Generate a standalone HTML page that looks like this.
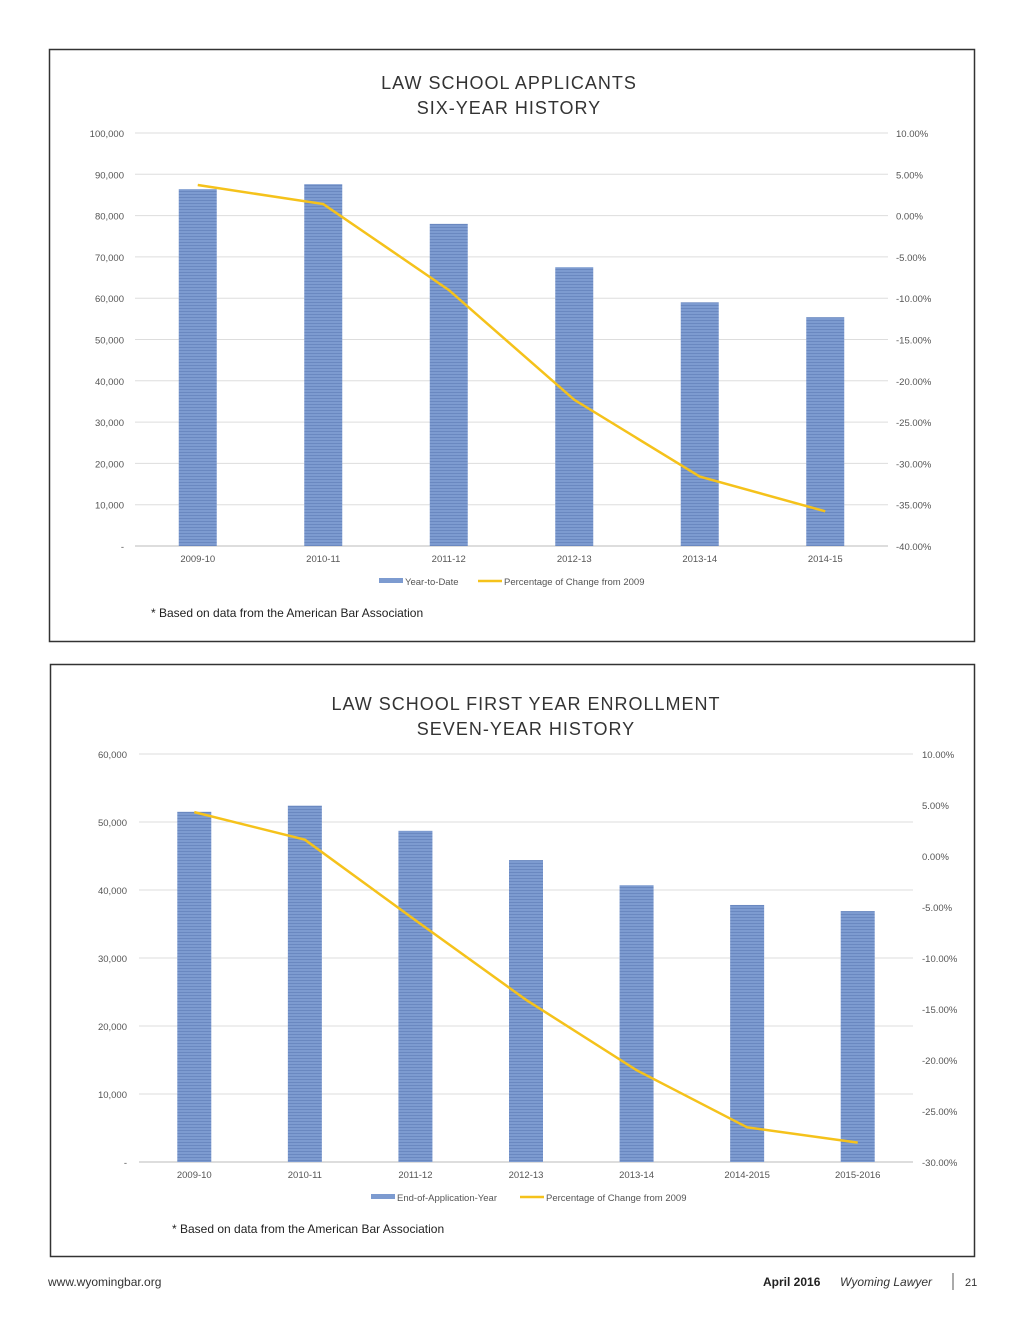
<!DOCTYPE html>
<html><head><meta charset="utf-8"><style>
body{margin:0;background:#fff;font-family:"Liberation Sans",sans-serif}
svg{display:block}
</style></head><body>
<svg id="page" width="1024" height="1325" xmlns="http://www.w3.org/2000/svg">
<defs>
<pattern id="stripe" width="4" height="3" patternUnits="userSpaceOnUse">
<rect width="4" height="3" fill="#7d9bd0"/><rect y="2" width="4" height="1" fill="#6a88c0"/>
</pattern>
</defs>
<rect x="49.5" y="49.5" width="925" height="592" fill="#fff" stroke="#333" stroke-width="1.5"/>
<rect x="50.5" y="664.5" width="924" height="592" fill="#fff" stroke="#333" stroke-width="1.5"/>
<text x="509" y="89" text-anchor="middle" font-size="18" fill="#333" letter-spacing="1">LAW SCHOOL APPLICANTS</text>
<text x="509" y="114" text-anchor="middle" font-size="18" fill="#333" letter-spacing="1">SIX-YEAR HISTORY</text>
<text x="526" y="710" text-anchor="middle" font-size="18" fill="#333" letter-spacing="1">LAW SCHOOL FIRST YEAR ENROLLMENT</text>
<text x="526" y="735" text-anchor="middle" font-size="18" fill="#333" letter-spacing="1">SEVEN-YEAR HISTORY</text>
<g id="c1"></g><g id="c2"></g>
<text x="151" y="617" font-size="12" fill="#222">* Based on data from the American Bar Association</text>
<text x="172" y="1233" font-size="12" fill="#222">* Based on data from the American Bar Association</text>
<text x="48" y="1286" font-size="12" fill="#333">www.wyomingbar.org</text>
<text x="763" y="1286" font-size="12" font-weight="bold" fill="#222">April 2016</text>
<text x="840" y="1286" font-size="12" font-style="italic" fill="#333">Wyoming Lawyer</text>
<line x1="953" y1="1273" x2="953" y2="1290" stroke="#555"/>
<text x="965" y="1286" font-size="11" fill="#333">21</text>
</svg>
<script>
const c1Cats=["2009-10","2010-11","2011-12","2012-13","2013-14","2014-15"];
const c1Bars=[86400,87600,78000,67500,59000,55400];
const c1Pct=[3.7,1.4,-9,-22.3,-31.6,-35.8];
const c1LeftTicks=["-","10,000","20,000","30,000","40,000","50,000","60,000","70,000","80,000","90,000","100,000"];
const c1RightTicks=["-40.00%","-35.00%","-30.00%","-25.00%","-20.00%","-15.00%","-10.00%","-5.00%","0.00%","5.00%","10.00%"];
const c2Cats=["2009-10","2010-11","2011-12","2012-13","2013-14","2014-2015","2015-2016"];
const c2Bars=[51500,52400,48700,44400,40700,37800,36900];
const c2Pct=[4.3,1.6,-6.3,-14.1,-21,-26.6,-28.1];
const c2LeftTicks=["-","10,000","20,000","30,000","40,000","50,000","60,000"];
const c2RightTicks=["-30.00%","-25.00%","-20.00%","-15.00%","-10.00%","-5.00%","0.00%","5.00%","10.00%"];
const NS="http://www.w3.org/2000/svg";
function mk(p,t,a){const e=document.createElementNS(NS,t);for(const k in a)e.setAttribute(k,a[k]);p.appendChild(e);return e;}
function draw(g,cfg,cats,bars,pct,lt,rt,legendBar){
 const {x0,x1,yTop,yBot,lmax,rmin,rmax,bw,lx,rx,legY,legX}=cfg;
 const yL=v=>yBot-(v/lmax)*(yBot-yTop);
 const yR=v=>yBot-((v-rmin)/(rmax-rmin))*(yBot-yTop);
 const step=(x1-x0)/cats.length;
 const xC=i=>x0+step*(i+0.5);
 lt.forEach((t,i)=>{const y=yBot-i*(yBot-yTop)/(lt.length-1);
  const l=mk(g,'line',{x1:x0,x2:x1,y1:y,y2:y,stroke:i?'#ddd':'#bbb'});
  
  const tx=mk(g,'text',{x:lx,y:y+4,'text-anchor':'end','font-size':9.5,fill:'#555'});tx.textContent=t;
  });
 rt.forEach((t,i)=>{const y=yBot-i*(yBot-yTop)/(rt.length-1);
  const tx=mk(g,'text',{x:rx,y:y+4,'font-size':9.5,fill:'#555'});tx.textContent=t;
  });
 cats.forEach((c,i)=>{
  const r=mk(g,'rect',{x:xC(i)-bw/2,y:yL(bars[i]),width:bw,height:yBot-yL(bars[i]),fill:'url(#stripe)'});
  
  const tx=mk(g,'text',{x:xC(i),y:yBot+16,'text-anchor':'middle','font-size':9.5,fill:'#555'});tx.textContent=c;
  });
 const pl=mk(g,'polyline',{points:pct.map((v,i)=>xC(i)+','+yR(v)).join(' '),fill:'none',stroke:'#f5c21b','stroke-width':2.5});
 
 const lb=mk(g,'rect',{x:legX,y:legY-4,width:24,height:5,fill:'#7d9bd0'});
 
 const lt1=mk(g,'text',{x:legX+26,y:legY+3,'font-size':9.5,fill:'#555'});lt1.textContent=legendBar;
 
 const off=cfg.legOff;
 const ll=mk(g,'line',{x1:legX+off,x2:legX+off+24,y1:legY-1,y2:legY-1,stroke:'#f5c21b','stroke-width':2.5});
 
 const lt2=mk(g,'text',{x:legX+off+26,y:legY+3,'font-size':9.5,fill:'#555'});lt2.textContent='Percentage of Change from 2009';
 
}
draw(document.getElementById('c1'),{x0:135,x1:888,yTop:133,yBot:546,lmax:100000,rmin:-40,rmax:10,bw:38,lx:124,rx:896,legY:582,legX:379,legOff:99},c1Cats,c1Bars,c1Pct,c1LeftTicks,c1RightTicks,'Year-to-Date');
draw(document.getElementById('c2'),{x0:139,x1:913,yTop:754,yBot:1162,lmax:60000,rmin:-30,rmax:10,bw:34,lx:127,rx:922,legY:1198,legX:371,legOff:149},c2Cats,c2Bars,c2Pct,c2LeftTicks,c2RightTicks,'End-of-Application-Year');
</script>
</body></html>
